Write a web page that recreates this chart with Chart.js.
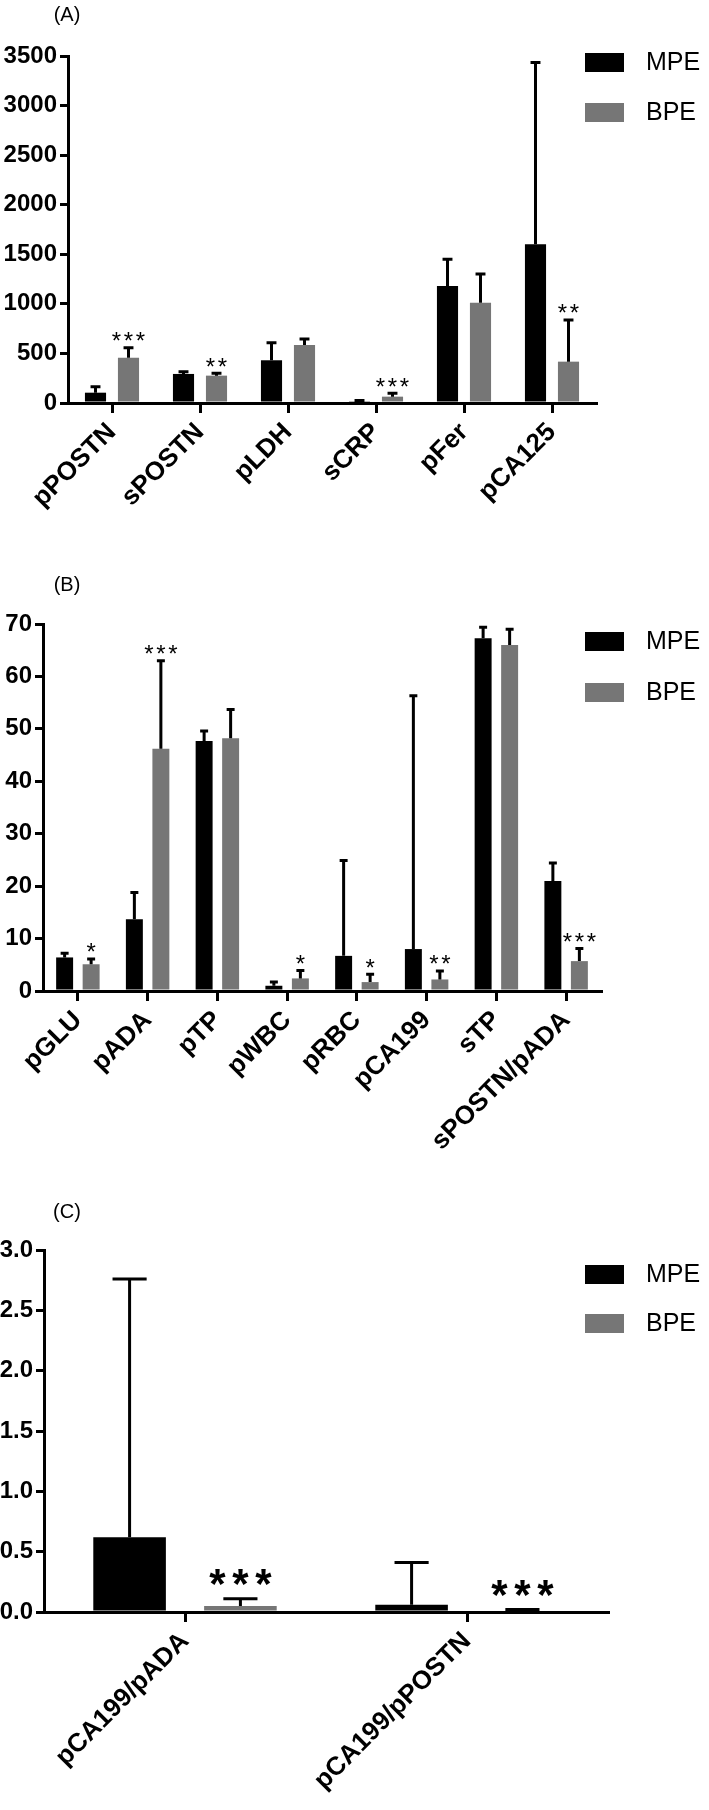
<!DOCTYPE html>
<html>
<head>
<meta charset="utf-8">
<script src="https://cdn.jsdelivr.net/npm/chart.js@4.4.1/dist/chart.umd.min.js"></script>
<style>
  body { margin: 0; background: #fff; }
  #page { position: relative; width: 709px; height: 1810px; background: #fff; }
  .panel { position: absolute; left: 0; width: 709px; }
</style>
</head>
<body>
<div id="page">
  <div class="panel" style="top:0px;height:545px"><canvas id="chartA" width="709" height="545"></canvas></div>
  <div class="panel" style="top:545px;height:640px"><canvas id="chartB" width="709" height="640"></canvas></div>
  <div class="panel" style="top:1185px;height:625px"><canvas id="chartC" width="709" height="625"></canvas></div>
</div>
<script>
// panel A
const labelsA = ["pPOSTN", "sPOSTN", "pLDH", "sCRP", "pFer", "pCA125"]
const mpeA = [104, 293, 431, 18, 1180, 1601]
const mpeSdA = [61, 23, 177, 8, 270, 1833]
const bpeA = [457, 276, 585, 64, 1012, 417]
const bpeSdA = [101, 23, 61, 34, 289, 420]
const starsA = ["***", "**", "", "***", "", "**"]
const yTicksA = [0, 3500, 500]

// panel B
const labelsB = ["pGLU", "pADA", "pTP", "pWBC", "pRBC", "pCA199", "sTP", "sPOSTN/pADA"]
const mpeB = [6.4, 13.7, 47.7, 1.0, 6.7, 8.0, 67.3, 21.0]
const mpeSdB = [0.8, 5.1, 1.9, 0.7, 18.2, 48.3, 2.1, 3.4]
const bpeB = [5.1, 46.2, 48.2, 2.4, 1.7, 2.2, 66.0, 5.7]
const bpeSdB = [1.0, 16.8, 5.5, 1.5, 1.5, 1.6, 3.0, 2.4]
const starsB = ["*", "***", "", "*", "*", "**", "", "***"]
const yTicksB = [0, 70, 10]

// panel C
const labelsC = ["pCA199/pADA", "pCA199/pPOSTN"]
const mpeC = [0.62, 0.06]
const mpeSdC = [2.14, 0.35]
const bpeC = [0.05, 0.012]
const bpeSdC = [0.06, 0.008]
const starsC = ["***", "***"]
const yTicksC = [0, 3, 0.5]

const seriesNames = ["MPE", "BPE"]
const seriesColors = ["#000000", "#767676"]

const FONT = "'Liberation Sans', Arial, Helvetica, sans-serif"

// error bars (upper half only) and significance stars
const errorBars = {
  id: "errorBars",
  afterDatasetsDraw(chart) {
    const ctx = chart.ctx
    const y = chart.scales.y
    const st = chart.options.plugins.errorBars
    ctx.save()
    chart.data.datasets.forEach((ds, i) => {
      const meta = chart.getDatasetMeta(i)
      meta.data.forEach((bar, j) => {
        const top = y.getPixelForValue(ds.data[j] + ds.sd[j])
        const cap = Math.max(bar.width * 0.47, 6)
        ctx.strokeStyle = "#000"
        ctx.lineWidth = 3
        ctx.beginPath()
        ctx.moveTo(bar.x, bar.y)
        ctx.lineTo(bar.x, top)
        ctx.moveTo(bar.x - cap / 2, top)
        ctx.lineTo(bar.x + cap / 2, top)
        ctx.stroke()
        const s = ds.stars ? ds.stars[j] : ""
        if (s) {
          ctx.fillStyle = "#000"
          ctx.font = st.starWeight + " " + st.starSize + "px " + FONT
          ctx.textAlign = "center"
          ctx.textBaseline = "alphabetic"
          const base = top - st.starGap + st.starSize * 0.43
          for (let k = 0; k < s.length; k++) {
            const sx = bar.x + (k - (s.length - 1) / 2) * st.starStep
            ctx.fillText("*", sx, base)
          }
        }
      })
    })
    ctx.restore()
  },
}

// panel letter and legend on the right
const panelDecor = {
  id: "panelDecor",
  afterDraw(chart) {
    const ctx = chart.ctx
    const o = chart.options.plugins.panelDecor
    ctx.save()
    ctx.fillStyle = "#000"
    ctx.font = "20px " + FONT
    ctx.textAlign = "center"
    ctx.textBaseline = "middle"
    ctx.fillText(o.letter, 67, o.letterY)
    o.legendY.forEach((ly, i) => {
      ctx.fillStyle = seriesColors[i]
      ctx.fillRect(585, ly, 39, 19)
      ctx.fillStyle = "#000"
      ctx.font = "25px " + FONT
      ctx.textAlign = "left"
      ctx.textBaseline = "middle"
      ctx.fillText(seriesNames[i], 646, ly + 10)
    })
    ctx.restore()
  },
}

function makeChart(id, labels, mpe, mpeSd, bpe, bpeSd, stars, yTicks, geo) {
  const ctx = document.getElementById(id).getContext("2d")
  return new Chart(ctx, {
    type: "bar",
    data: {
      labels,
      datasets: [
        {
          label: seriesNames[0],
          data: mpe,
          sd: mpeSd,
          backgroundColor: seriesColors[0],
          categoryPercentage: geo.catPct,
          barPercentage: geo.barPct,
        },
        {
          label: seriesNames[1],
          data: bpe,
          sd: bpeSd,
          stars,
          backgroundColor: seriesColors[1],
          categoryPercentage: geo.catPct,
          barPercentage: geo.barPct,
        },
      ],
    },
    options: {
      responsive: false,
      animation: false,
      devicePixelRatio: 1,
      layout: { padding: { top: geo.top, right: geo.right, left: 0, bottom: 0 } },
      plugins: {
        legend: { display: false },
        tooltip: { enabled: false },
        errorBars: geo.stars,
        panelDecor: { letter: geo.letter, letterY: geo.letterY, legendY: geo.legendY },
      },
      scales: {
        x: {
          afterFit: (s) => { s.height = geo.xHeight },
          border: { display: true, color: "#000", width: 3 },
          grid: { drawOnChartArea: false, offset: false, color: "#000", lineWidth: 3, tickLength: 10 },
          ticks: {
            autoSkip: false,
            maxRotation: 45,
            minRotation: 45,
            padding: 4,
            color: "#000",
            font: { family: FONT, size: 26, weight: "bold" },
          },
        },
        y: {
          min: yTicks[0],
          max: yTicks[1],
          afterFit: (s) => { s.width = geo.left },
          border: { display: true, color: "#000", width: 3 },
          grid: { drawOnChartArea: false, color: "#000", lineWidth: 3, tickLength: 8 },
          ticks: {
            stepSize: yTicks[2],
            padding: 3,
            color: "#000",
            font: { family: FONT, size: 24, weight: "bold" },
            callback: (v) => (geo.decimals ? Number(v).toFixed(geo.decimals) : v),
          },
        },
      },
    },
    plugins: [errorBars, panelDecor],
  })
}

makeChart("chartA", labelsA, mpeA, mpeSdA, bpeA, bpeSdA, starsA, yTicksA, {
  top: 56, right: 113, left: 68, xHeight: 142,
  catPct: 0.75, barPct: 0.64, decimals: 0,
  letter: "(A)", letterY: 15, legendY: [53, 103],
  stars: { starSize: 24, starStep: 12, starGap: 9, starWeight: "normal" },
})

makeChart("chartB", labelsB, mpeB, mpeSdB, bpeB, bpeSdB, starsB, yTicksB, {
  top: 79, right: 108, left: 43, xHeight: 194,
  catPct: 0.76, barPct: 0.64, decimals: 0,
  letter: "(B)", letterY: 40, legendY: [87, 138],
  stars: { starSize: 24, starStep: 12, starGap: 9, starWeight: "normal" },
})

makeChart("chartC", labelsC, mpeC, mpeSdC, bpeC, bpeSdC, starsC, yTicksC, {
  top: 65, right: 101, left: 44, xHeight: 198,
  catPct: 0.786, barPct: 0.655, decimals: 1,
  letter: "(C)", letterY: 27, legendY: [80, 129],
  stars: { starSize: 42, starStep: 23, starGap: 19, starWeight: "bold" },
})
</script>
</body>
</html>
